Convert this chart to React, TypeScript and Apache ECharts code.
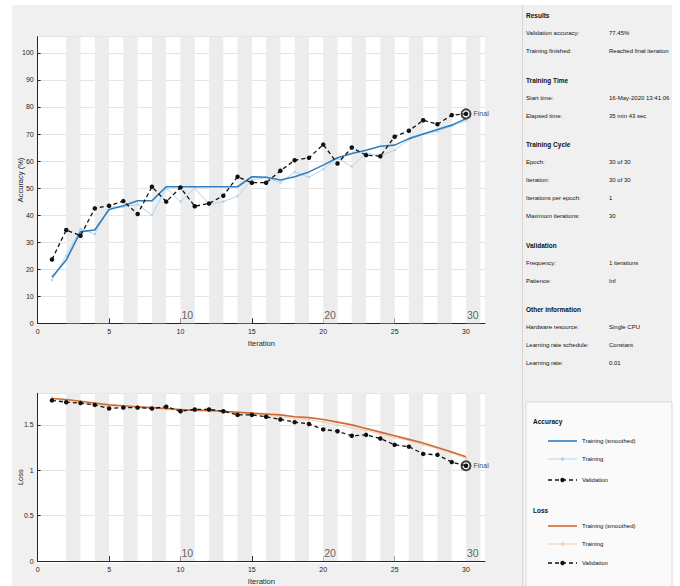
import React, { useEffect, useRef } from "react";
import * as echarts from "echarts";

const iterations = [1, 2, 3, 4, 5, 6, 7, 8, 9, 10, 11, 12, 13, 14, 15, 16, 17, 18, 19, 20, 21, 22, 23, 24, 25, 26, 27, 28, 29, 30];
const accSmoothed = [17, 23.4, 33.9, 34.5, 42.1, 43.5, 45.3, 45.3, 50.5, 50.5, 50.5, 50.5, 50.5, 50.5, 54.2, 54, 53, 54.2, 56, 58.5, 61.2, 62.8, 64, 65.5, 65.9, 68.3, 70, 71.7, 73.3, 75.7];
const accTraining = [16, 25, 35, 33, 43, 43, 44, 40, 50, 45, 50, 44, 45, 47, 53, 54, 52, 56, 54, 57, 61, 58, 63, 62, 64, 68, 70, 71, 73, 75];
const accValidation = [23.6, 34.5, 32.4, 42.5, 43.5, 45.2, 40.4, 50.5, 45, 50.2, 43.3, 44.3, 47.2, 54.2, 52, 52, 56.4, 60.3, 61.2, 66.1, 59.1, 65, 62.2, 61.8, 69, 71.2, 75.1, 73.6, 77, 77.45];
const lossSmoothed = [1.79, 1.78, 1.76, 1.74, 1.72, 1.71, 1.7, 1.69, 1.68, 1.67, 1.66, 1.66, 1.65, 1.64, 1.63, 1.62, 1.61, 1.59, 1.58, 1.56, 1.53, 1.5, 1.46, 1.42, 1.38, 1.34, 1.3, 1.25, 1.2, 1.15];
const lossTraining = [1.8, 1.76, 1.74, 1.72, 1.7, 1.7, 1.69, 1.68, 1.67, 1.66, 1.66, 1.65, 1.64, 1.63, 1.62, 1.61, 1.59, 1.57, 1.56, 1.53, 1.5, 1.47, 1.44, 1.4, 1.36, 1.33, 1.28, 1.24, 1.19, 1.13];
const lossValidation = [1.77, 1.75, 1.74, 1.72, 1.68, 1.69, 1.69, 1.68, 1.7, 1.65, 1.67, 1.67, 1.65, 1.61, 1.61, 1.59, 1.56, 1.53, 1.51, 1.45, 1.43, 1.38, 1.39, 1.35, 1.28, 1.26, 1.18, 1.17, 1.09, 1.05];
const epochLabels = [10, 20, 30];
const shadedEpochStarts = [2, 4, 6, 8, 10, 12, 14, 16, 18, 20, 22, 24, 26, 28, 30];

const infoSections: { title: string; rows: [string, string][] }[] = [
  { title: "Results", rows: [["Validation accuracy:", "77.45%"], ["Training finished:", "Reached final iteration"]] },
  { title: "Training Time", rows: [["Start time:", "16-May-2020 13:41:06"], ["Elapsed time:", "35 min 43 sec"]] },
  { title: "Training Cycle", rows: [["Epoch:", "30 of 30"], ["Iteration:", "30 of 30"], ["Iterations per epoch:", "1"], ["Maximum iterations:", "30"]] },
  { title: "Validation", rows: [["Frequency:", "1 iterations"], ["Patience:", "Inf"]] },
  { title: "Other information", rows: [["Hardware resource:", "Single CPU"], ["Learning rate schedule:", "Constant"], ["Learning rate:", "0.01"]] },
];

const FONT = "'Liberation Sans Narrow', 'Arial Narrow', 'Liberation Sans', Arial, sans-serif";
const BLUE = "#2f7fc0";
const LIGHT_BLUE = "#b3d4ec";
const BROWN = "#cf6a35";
const PEACH = "#f3cdb8";
const BAND = "#ececec";
const INK = "#262626";

const pairs = (vals: number[]) => iterations.map((it, i) => [it, vals[i]]);

function buildInfoGraphics() {
  const els: any[] = [];
  let y = 15.7;
  infoSections.forEach((sec, si) => {
    if (si > 0) y += 29;
    els.push({ type: "text", x: 526, y, style: { text: sec.title, font: `bold 6.5px ${FONT}`, fill: "#111", verticalAlign: "middle" } });
    sec.rows.forEach((r, ri) => {
      y += ri === 0 ? 17.5 : 18;
      els.push({ type: "text", x: 526, y, style: { text: r[0], font: `6px ${FONT}`, fill: "#111", verticalAlign: "middle" } });
      els.push({ type: "text", x: 609, y, style: { text: r[1], font: `6px ${FONT}`, fill: "#111", verticalAlign: "middle" } });
    });
  });
  return els;
}

function legendItem(y: number, text: string, color: string, width: number, dashed: boolean, marker: string | null, markerSize: number) {
  const els: any[] = [
    { type: "line", shape: { x1: 548, y1: y, x2: 577, y2: y }, style: { stroke: color, lineWidth: width, lineDash: dashed ? [4, 3] : null } },
    { type: "text", x: 582, y, style: { text, font: `6px ${FONT}`, fill: "#111", verticalAlign: "middle" } },
  ];
  if (marker) els.push({ type: "circle", shape: { cx: 562.5, cy: y, r: markerSize }, style: { fill: marker } });
  return els;
}

function buildLegendGraphics() {
  return [
    { type: "rect", shape: { x: 526, y: 402, width: 146, height: 190 }, style: { fill: "#fafafa", stroke: "#dadada", lineWidth: 1 } },
    { type: "text", x: 533, y: 421, style: { text: "Accuracy", font: `bold 6.5px ${FONT}`, fill: "#111", verticalAlign: "middle" } },
    ...legendItem(441, "Training (smoothed)", BLUE, 1.6, false, null, 0),
    ...legendItem(459, "Training", LIGHT_BLUE, 1, false, LIGHT_BLUE, 1.8),
    ...legendItem(480, "Validation", "#111", 1.3, true, "#111", 2.2),
    { type: "text", x: 533, y: 510, style: { text: "Loss", font: `bold 6.5px ${FONT}`, fill: "#111", verticalAlign: "middle" } },
    ...legendItem(526, "Training (smoothed)", BROWN, 1.6, false, null, 0),
    ...legendItem(544, "Training", PEACH, 1, false, PEACH, 1.8),
    ...legendItem(563, "Validation", "#111", 1.3, true, "#111", 2.2),
  ];
}

function plotSeries(idx: number, smoothed: number[], training: number[], validation: number[], smColor: string, trColor: string, bottomValue: number) {
  const last = validation.length - 1;
  return [
    {
      type: "line", xAxisIndex: idx, yAxisIndex: idx, z: 0, silent: true, showSymbol: false,
      data: [[0, bottomValue]], lineStyle: { opacity: 0 },
      markArea: { silent: true, itemStyle: { color: BAND }, data: shadedEpochStarts.map((s) => [{ xAxis: s }, { xAxis: s + 1 }]) },
    },
    {
      type: "line", xAxisIndex: idx, yAxisIndex: idx, z: 3, data: pairs(training),
      lineStyle: { color: trColor, width: 1 }, itemStyle: { color: trColor }, symbol: "circle", symbolSize: 2.5,
    },
    {
      type: "line", xAxisIndex: idx, yAxisIndex: idx, z: 4, data: pairs(smoothed), showSymbol: false,
      lineStyle: { color: smColor, width: 1.6 },
    },
    {
      type: "scatter", xAxisIndex: idx, yAxisIndex: idx, z: 4.5, data: [[iterations[last], validation[last]]],
      symbol: "emptyCircle", symbolSize: 9, itemStyle: { color: "#111", borderColor: "#111", borderWidth: 1 },
      label: { show: true, position: "right", distance: 2, formatter: "Final", fontFamily: FONT, fontSize: 7, color: "#111" },
    },
    {
      type: "line", xAxisIndex: idx, yAxisIndex: idx, z: 5, data: pairs(validation),
      lineStyle: { color: "#111", width: 1.3, type: [4, 3] }, itemStyle: { color: "#111" }, symbol: "circle", symbolSize: 4.5,
    },
    {
      type: "scatter", xAxisIndex: idx, yAxisIndex: idx, z: 6, data: epochLabels.map((e) => [e, bottomValue]),
      symbolSize: 0, itemStyle: { color: "#3a3a3a" },
      label: { show: true, position: [1, -14], formatter: (p: any) => String(p.value[0]), fontFamily: FONT, fontSize: 10.5, color: "#3a3a3a" },
    },
  ];
}

function axisCommon() {
  return {
    axisLine: { show: true, onZero: false, lineStyle: { color: INK, width: 1 } },
    axisTick: { show: true, inside: true, length: 5, lineStyle: { color: INK } },
    axisLabel: { fontFamily: FONT, fontSize: 7, color: INK, showMaxLabel: false },
  };
}

export default function App() {
  const ref = useRef<HTMLDivElement>(null);
  useEffect(() => {
    if (!ref.current) return;
    const chart = echarts.init(ref.current, null, { renderer: "svg" });
    const xAxisBase = (gridIndex: number) => ({
      gridIndex, type: "value", min: 0, max: 31.33, interval: 5,
      name: "Iteration", nameLocation: "middle", nameGap: 16, nameMoveOverlap: false,
      nameTextStyle: { fontFamily: FONT, fontSize: 7.5, color: INK },
      splitLine: { show: false },
      ...axisCommon(),
      axisLabel: { ...axisCommon().axisLabel, margin: 5 },
    });
    const yAxisBase = (gridIndex: number, name: string, max: number, interval: number) => ({
      gridIndex, type: "value", min: 0, max, interval,
      name, nameLocation: "middle", nameGap: 13, nameMoveOverlap: false,
      nameTextStyle: { fontFamily: FONT, fontSize: 7.5, color: INK },
      splitLine: { show: true, lineStyle: { color: "#e4e4e4", width: 1 } },
      ...axisCommon(),
      axisTick: { show: true, inside: true, length: 3, lineStyle: { color: INK } },
      axisLabel: { ...axisCommon().axisLabel, margin: 4 },
    });
    chart.setOption({
      animation: false,
      backgroundColor: "#ffffff",
      graphic: [
        { type: "rect", z: -10, silent: true, shape: { x: 12, y: 5, width: 660, height: 590 }, style: { fill: "#f0f0f0" } },
        { type: "line", z: -9, silent: true, shape: { x1: 522.5, y1: 5, x2: 522.5, y2: 586 }, style: { stroke: "#d6d6d6", lineWidth: 1 } },
        { type: "rect", z: -9, silent: true, shape: { x: 37.7, y: 36.7, width: 447.3, height: 286.6 }, style: { fill: "#ffffff" } },
        { type: "rect", z: -9, silent: true, shape: { x: 37.7, y: 393.3, width: 447.3, height: 170 }, style: { fill: "#ffffff" } },
        ...buildInfoGraphics(),
        ...buildLegendGraphics(),
      ],
      grid: [
        { left: 37.7, top: 36.7, width: 447.3, height: 286.6 },
        { left: 37.7, top: 393.3, width: 447.3, height: 170 },
      ],
      xAxis: [xAxisBase(0), xAxisBase(1)],
      yAxis: [yAxisBase(0, "Accuracy (%)", 106, 10), yAxisBase(1, "Loss", 1.848, 0.5)],
      series: [
        ...plotSeries(0, accSmoothed, accTraining, accValidation, BLUE, LIGHT_BLUE, 0),
        ...plotSeries(1, lossSmoothed, lossTraining, lossValidation, BROWN, PEACH, 0),
      ],
    });
    return () => chart.dispose();
  }, []);
  return <div ref={ref} style={{ position: "fixed", left: 0, top: 0, width: 680, height: 586 }} />;
}
